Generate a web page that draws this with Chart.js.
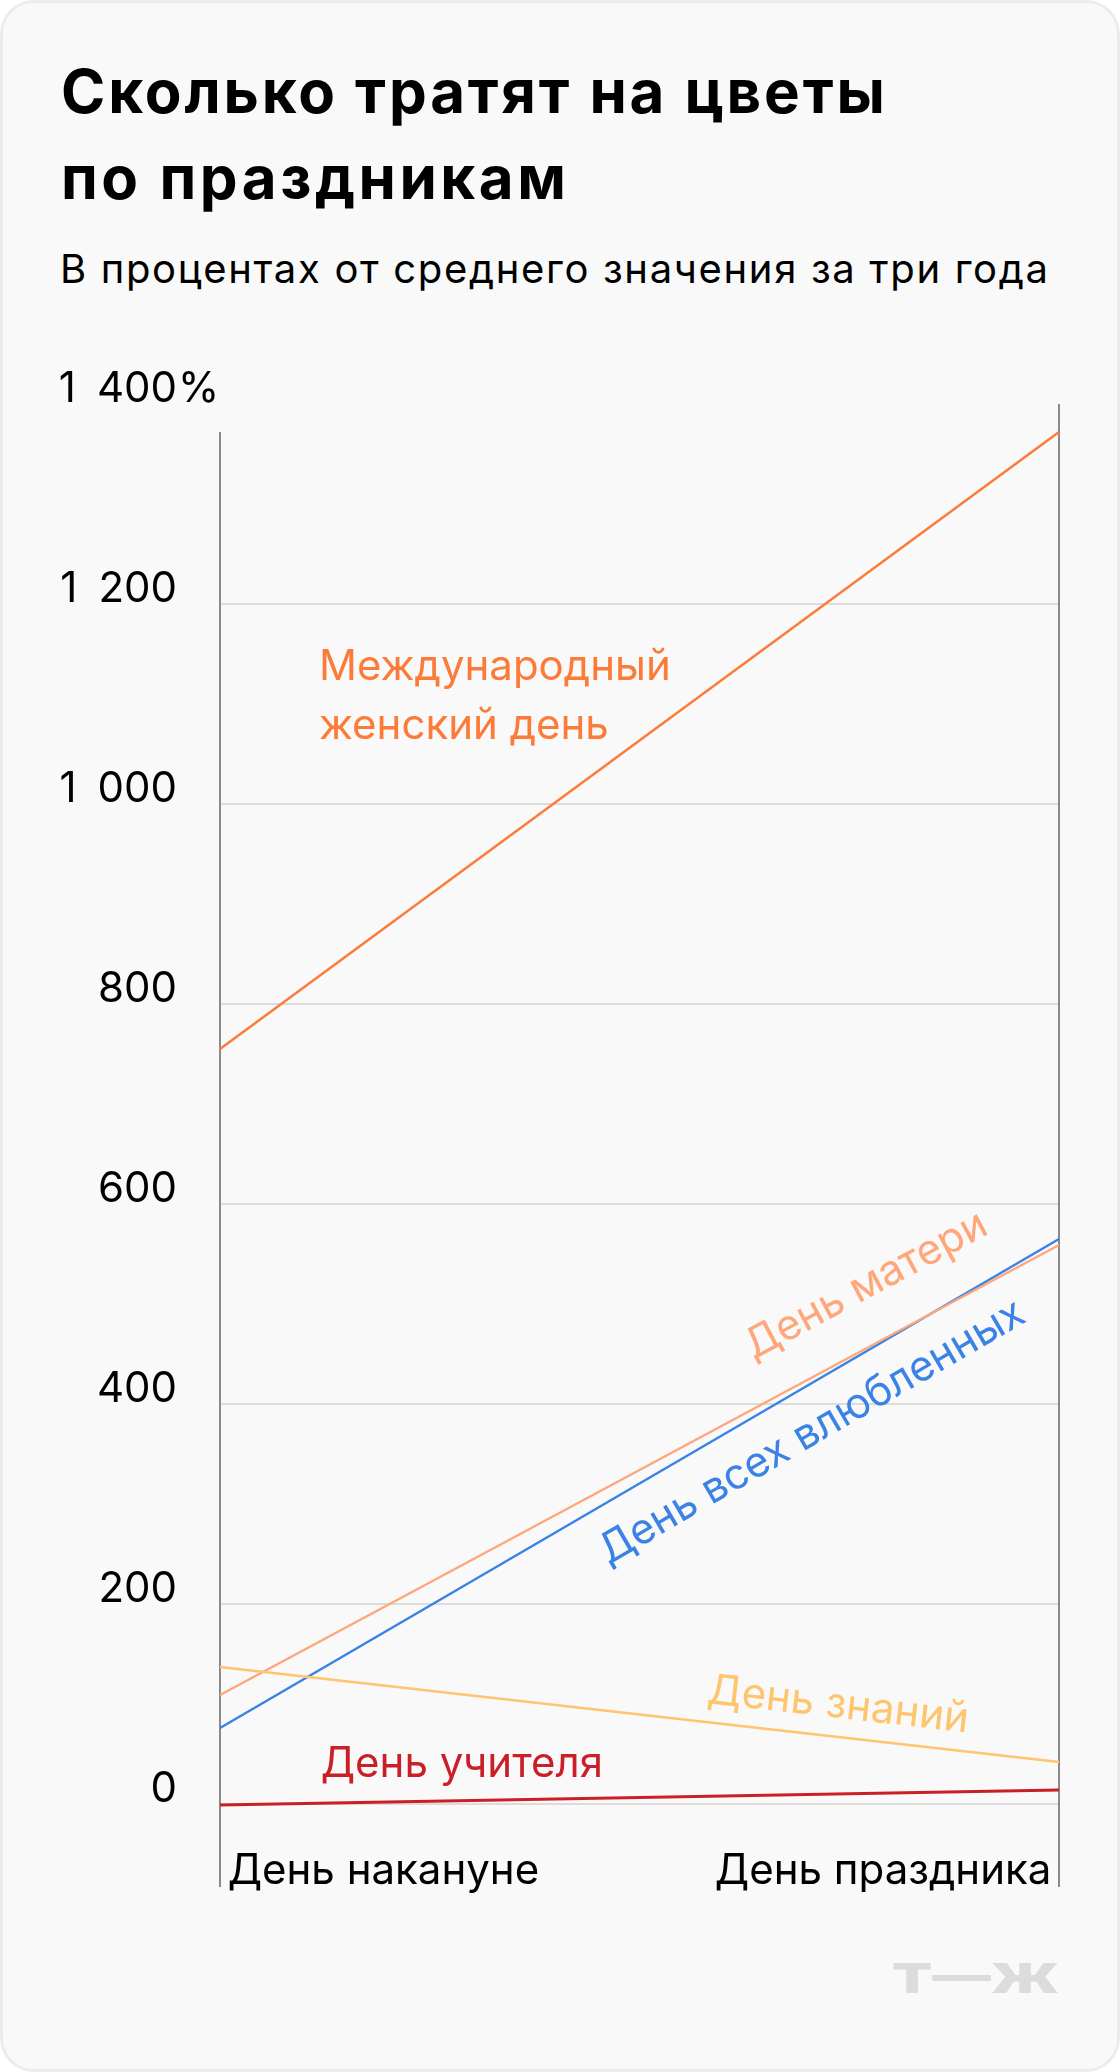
<!DOCTYPE html>
<html lang="ru">
<head>
<meta charset="utf-8">
<script src="https://cdn.jsdelivr.net/npm/chart.js@4.4.1/dist/chart.umd.min.js"></script>
<style>
html,body{margin:0;padding:0;background:#ffffff;}
#card{position:relative;width:1120px;height:2072px;box-sizing:border-box;border-radius:34px;background:#f9f9f9;box-shadow:inset 0 0 0 3px #ececec;overflow:hidden;font-family:Inter,"Noto Sans",sans-serif;color:#000;}
#txt{position:absolute;left:0;top:0;}
#wrap{position:absolute;left:0;top:334px;width:1120px;height:1623px;}
</style>
</head>
<body>
<div id="card">
  <svg id="txt" width="1120" height="2072" xmlns="http://www.w3.org/2000/svg">
    <text x="61" y="113" font-family="Inter" font-weight="700" font-size="60" fill="#000" textLength="824" lengthAdjust="spacing">Сколько тратят на цветы</text>
    <text x="61" y="199" font-family="Inter" font-weight="700" font-size="60" fill="#000" textLength="505" lengthAdjust="spacing">по праздникам</text>
    <text x="60" y="283" font-family="Inter" font-weight="400" font-size="40" fill="#000" textLength="988" lengthAdjust="spacing">В процентах от среднего значения за три года</text>
    <text x="892" y="1993" font-family="Inter" font-weight="900" font-size="41" fill="#dcdcdc" textLength="167" lengthAdjust="spacingAndGlyphs">Т—Ж</text>
  </svg>
  <div id="wrap"><canvas id="chart"></canvas></div>
</div>
<script>
// ---- data ----
const categories = ['День накануне', 'День праздника'];
const womensDay = [755, 1372];
const mothersDay = [109, 559];
const valentinesDay = [76, 565];
const knowledgeDay = [137, 42];
const teachersDay = [-1, 14];
const yTickValues = [0, 200, 400, 600, 800, 1000, 1200, 1400];
const seriesNames = ['Международный женский день', 'День матери', 'День всех влюбленных', 'День знаний', 'День учителя'];

// ---- styles ----
const colors = {
  womens: '#fd7b39',
  mothers: '#ffa77b',
  valentines: '#3b82e6',
  knowledge: '#ffc56e',
  teachers: '#ca1f27'
};
const FONT = 'Inter';
const FS = 42;

const fmt = v => {
  const s = String(Math.abs(v));
  return (v < 0 ? '−' : '') + s.replace(/\B(?=(\d{3})+(?!\d))/g, '\u2002');
};

// label placements: t = fraction along x, d = perpendicular offset (px, + above)
const labelSpecs = [
  {ds: 0, lines: ['Международный', 'женский день'], t: 0.118, value: 1124, lineGap: 59, color: colors.womens},
  {ds: 2, lines: [seriesNames[1]], t: 0.66, d: 43, rotate: true, color: colors.mothers},
  {ds: 3, lines: [seriesNames[2]], t: 0.43, d: -55, rotate: true, color: colors.valentines},
  {ds: 1, lines: [seriesNames[3]], t: 0.577, d: 19, rotate: true, color: colors.knowledge},
  {ds: 4, lines: [seriesNames[4]], t: 0.12, value: 27, color: colors.teachers}
];

const annotPlugin = {
  id: 'annot',
  beforeDatasetsDraw(chart) {
    const {ctx, scales: {x, y}, chartArea} = chart;
    ctx.save();
    ctx.strokeStyle = '#8a8a8a';
    ctx.lineWidth = 2;
    const tops = [womensDay[1], 1400];
    [0, 1].forEach(i => {
      const px = Math.round(x.getPixelForValue(i));
      ctx.beginPath();
      ctx.moveTo(px, y.getPixelForValue(tops[i]));
      ctx.lineTo(px, chartArea.bottom);
      ctx.stroke();
    });
    ctx.restore();
  },
  afterDatasetsDraw(chart) {
    const {ctx, scales: {x, y}} = chart;
    ctx.save();
    ctx.font = `400 ${FS}px ${FONT}`;
    ctx.textBaseline = 'alphabetic';
    ctx.textAlign = 'left';
    const x0 = x.getPixelForValue(0), x1 = x.getPixelForValue(1);
    labelSpecs.forEach(s => {
      ctx.fillStyle = s.color;
      if (s.rotate) {
        const data = chart.data.datasets[s.ds].data;
        const p0 = {x: x0, y: y.getPixelForValue(data[0])};
        const p1 = {x: x1, y: y.getPixelForValue(data[1])};
        const a = Math.atan2(p1.y - p0.y, p1.x - p0.x);
        const fx = p0.x + s.t * (p1.x - p0.x);
        const fy = p0.y + s.t * (p1.y - p0.y);
        const sx = fx + s.d * Math.sin(a);
        const sy = fy - s.d * Math.cos(a);
        ctx.save();
        ctx.translate(sx, sy);
        ctx.rotate(a);
        ctx.fillText(s.lines[0], 0, 0);
        ctx.restore();
      } else {
        const px = x0 + s.t * (x1 - x0);
        const py = y.getPixelForValue(s.value);
        s.lines.forEach((ln, i) => ctx.fillText(ln, px, py + i * (s.lineGap || 0)));
      }
    });
    // percent sign after the top tick label
    const ys = chart.scales.y;
    ctx.fillStyle = '#000';
    ctx.textBaseline = 'middle';
    ctx.fillText('%', ys.right - ys.options.ticks.padding + 1, ys.getPixelForValue(1400) + ys.options.ticks.labelOffset);
    ctx.restore();
  }
};

function build() {
  Chart.defaults.font.family = FONT;
  Chart.defaults.font.size = FS;
  Chart.defaults.color = '#000';
  const ds = (label, data, color, width) => ({
    label, data, borderColor: color, backgroundColor: color, borderWidth: width,
    pointRadius: 0, pointHoverRadius: 0, tension: 0, fill: false
  });
  new Chart(document.getElementById('chart'), {
    type: 'line',
    data: {
      labels: categories,
      datasets: [
        ds(seriesNames[0], womensDay, colors.womens, 2.5),
        ds(seriesNames[3], knowledgeDay, colors.knowledge, 2.5),
        ds(seriesNames[1], mothersDay, colors.mothers, 2.5),
        ds(seriesNames[2], valentinesDay, colors.valentines, 2.5),
        ds(seriesNames[4], teachersDay, colors.teachers, 3)
      ]
    },
    options: {
      responsive: true,
      maintainAspectRatio: false,
      animation: false,
      events: [],
      layout: {padding: {left: 0, right: 61, top: 70, bottom: 70}},
      plugins: {legend: {display: false}, tooltip: {enabled: false}},
      scales: {
        x: {
          type: 'category',
          offset: false,
          grid: {display: false, drawTicks: false},
          border: {display: false},
          afterFit: s => { s.height = 0; },
          ticks: {
            align: 'inner', autoSkip: false, maxRotation: 0, minRotation: 0,
            mirror: true, padding: -10,
            font: {size: FS}, color: '#000',
            callback: function(v, i) { const l = this.getLabelForValue(v); return i === 0 ? '\u2009' + l : l + '\u2009'; }
          }
        },
        y: {
          type: 'linear',
          min: -83, max: 1400,
          afterBuildTicks: s => { s.ticks = yTickValues.map(v => ({value: v})); },
          afterFit: s => { s.width = 220; },
          grid: {
            drawTicks: false,
            lineWidth: 2,
            color: c => (c.tick && c.tick.value === 1400) ? 'rgba(0,0,0,0)' : '#dcdcdc'
          },
          border: {display: false},
          ticks: {
            padding: 43, labelOffset: -15, autoSkip: false,
            font: {size: FS}, color: '#000',
            callback: v => fmt(v)
          }
        }
      }
    },
    plugins: [annotPlugin]
  });
}
(document.fonts && document.fonts.load ? document.fonts.load(`${FS}px ${FONT}`).then(build, build) : build());
</script>
</body>
</html>
